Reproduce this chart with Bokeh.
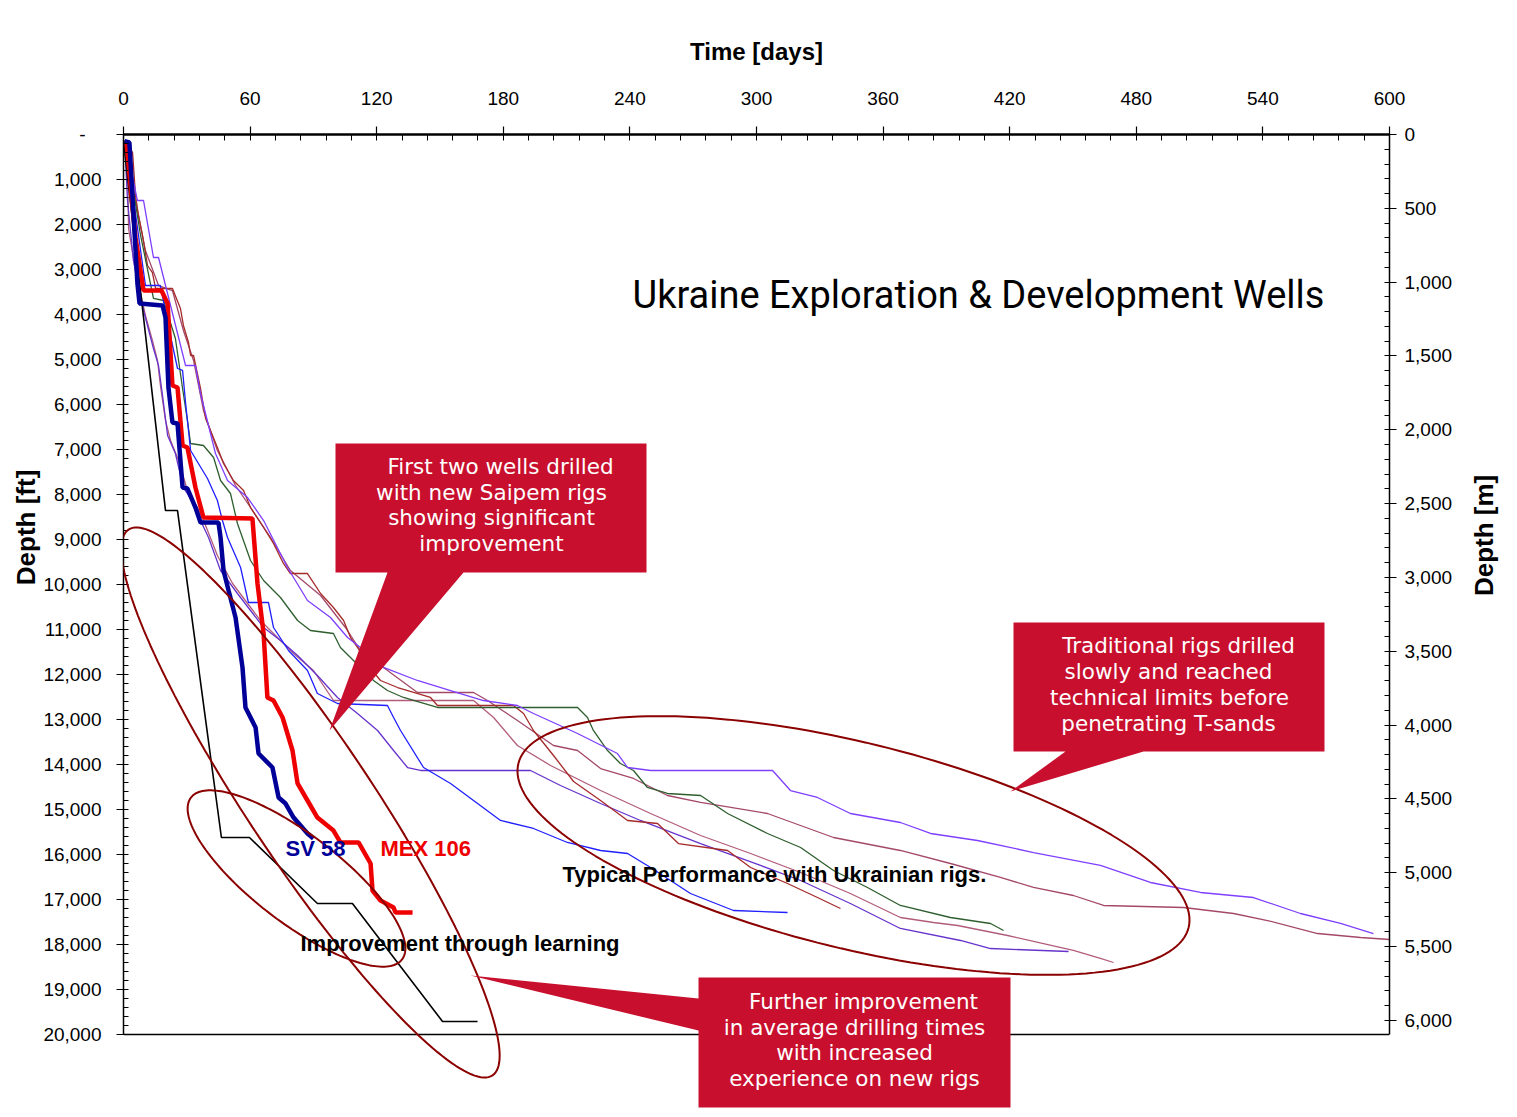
import math
from bokeh.plotting import figure
from bokeh.models import Range1d, LinearAxis, FixedTicker, Label, PolyAnnotation, Span
from bokeh.embed import file_html
from bokeh.resources import INLINE

# ---------------- data ----------------
time_ticks = list(range(0, 601, 60))
time_minor = list(range(0, 601, 12))
ft_ticks = list(range(0, 20001, 1000))
ft_minor = list(range(0, 20001, 200))
m_ticks = list(range(0, 6001, 500))
m_minor = list(range(0, 6001, 100))
ft_tick_labels = ["-\u00a0\u00a0\u00a0"] + [f"{t:,}" for t in ft_ticks[1:]]
m_tick_labels = [f"{t:,}" for t in m_ticks]
time_tick_labels = [str(t) for t in time_ticks]

sv58_days = [0.5, 2.8, 6.6, 7.6, 18.5, 19.9, 21.3, 23.2, 25.6, 28.0, 30.3, 34.1, 36.5, 45.0, 46.0,
             47.4, 49.8, 53.1, 56.4, 57.8, 62.6, 64.0, 70.6, 73.5, 76.8, 80.6, 87.2, 90.0]
sv58_ft = [150, 178, 3311, 3756, 3800, 4067, 5622, 6400, 6422, 7844, 7867, 8289, 8622, 8622, 8956,
           9689, 10133, 10733, 11844, 12733, 13178, 13756, 14067, 14733, 14867, 15178, 15533, 15644]

mex106_days = [0.5, 1.4, 5.7, 9.5, 18.0, 20.9, 23.2, 25.6, 28.0, 30.3, 34.1, 37.9, 61.1, 63.5, 66.4,
               68.2, 71.1, 75.4, 80.1, 82.5, 87.2, 91.9, 99.5, 102.8, 111.4, 117.1, 118.0, 121.8,
               128.0, 128.9, 137.0]
mex106_ft = [150, 178, 2289, 3467, 3467, 3756, 5578, 5622, 6911, 6956, 7844, 8511, 8533, 9978, 11089,
             12511, 12578, 12956, 13689, 14422, 14800, 15178, 15467, 15733, 15733, 16200, 16800, 17022,
             17178, 17289, 17289]

learning_days = [0.0, 19.9, 25.6, 46.4, 59.7, 91.9, 108.5, 151.2, 167.8]
learning_ft = [150, 8356, 8356, 15622, 15622, 17089, 17089, 19711, 19711]

ukr_blue_days = [0.9, 10.4, 17.5, 20.9, 25.6, 28.0, 29.4, 31.8, 39.8, 44.5, 46.9, 49.3, 55.5, 59.2,
                 68.7, 71.1, 78.2, 87.2, 91.9, 101.4, 125.1, 128.0, 131.3, 142.2, 155.0, 178.7, 194.3,
                 210.4, 226.1, 238.9, 249.8, 268.7, 289.1, 314.7]
ukr_blue_ft = [133, 3356, 3356, 4178, 5200, 5244, 5956, 7022, 7644, 8133, 8578, 8956, 9622, 10400,
               10400, 10956, 11467, 11911, 12422, 12644, 12689, 12956, 13244, 14067, 14422, 15244, 15422,
               15733, 15911, 15978, 16289, 16867, 17244, 17289]

ukr_green_days = [0.9, 8.1, 14.2, 19.0, 24.6, 28.0, 30.3, 31.8, 37.9, 42.7, 46.0, 50.7, 54.0, 60.2,
                  66.4, 74.4, 82.5, 88.6, 99.5, 102.8, 109.0, 118.5, 125.1, 132.7, 148.8, 215.2, 219.9,
                  222.7, 229.4, 235.5, 241.7, 248.3, 257.8, 273.5, 286.3, 305.2, 320.9, 336.5, 352.6,
                  368.2, 391.9, 410.9, 417.1]
ukr_green_ft = [133, 2244, 3644, 3689, 4533, 5644, 6356, 6867, 6911, 7178, 7689, 7978, 8644, 9467,
                9911, 10289, 10800, 11022, 11089, 11400, 11689, 12133, 12356, 12511, 12733, 12733, 12956,
                13244, 13689, 13978, 14133, 14511, 14644, 14689, 15089, 15533, 15844, 16356, 16733,
                17133, 17400, 17533, 17689]

ukr_violet_days = [1.0, 6.6, 9.5, 14.2, 16.6, 26.1, 29.4, 34.1, 36.5, 43.6, 49.3, 58.8, 66.4, 77.7,
                   87.2, 98.1, 106.2, 112.3, 123.2, 139.3, 155.0, 170.6, 186.7, 194.3, 215.2, 234.1,
                   238.9, 249.8, 307.6, 316.1, 328.9, 344.5, 368.2, 382.5, 404.7, 431.3, 463.0, 486.7,
                   510.4, 535.5, 557.8, 576.8, 592.4]
ukr_violet_ft = [178, 1467, 1467, 2733, 2733, 4511, 5133, 5133, 5756, 7089, 7689, 8067, 8578, 9622,
                 10356, 10733, 11178, 11400, 11844, 12133, 12356, 12578, 12689, 12867, 13311, 13756,
                 14067, 14133, 14133, 14578, 14733, 15089, 15289, 15533, 15689, 15956, 16244, 16622,
                 16844, 16956, 17311, 17533, 17756]

ukr_darkred_days = [0.9, 4.3, 5.7, 7.1, 9.0, 11.4, 13.7, 15.2, 23.2, 27.0, 28.4, 30.8, 31.8, 33.2,
                    36.5, 38.9, 44.5, 47.4, 52.1, 56.9, 60.2, 66.4, 71.1, 75.8, 79.1, 87.2, 93.4, 99.5,
                    104.3, 107.6, 110.9, 117.1, 121.8, 129.9, 145.5, 148.8, 184.8, 189.6, 194.3, 203.8,
                    213.3, 226.1, 238.9, 253.1, 263.0, 286.3, 297.2, 314.7, 328.9, 339.8]
ukr_darkred_ft = [133, 400, 1356, 1800, 2244, 2911, 3067, 3422, 3422, 3867, 4244, 4622, 4911, 4911,
                  5644, 6311, 6956, 7311, 7689, 7911, 8289, 8733, 9089, 9533, 9756, 9756, 10200, 10511,
                  10800, 11178, 11400, 11867, 12133, 12289, 12511, 12689, 12689, 12867, 13244, 13800,
                  14378, 14800, 15244, 15311, 15756, 15911, 16289, 16644, 16956, 17200]

ukr_purple_days = [0.5, 1.9, 4.7, 9.5, 14.2, 16.6, 18.5, 20.9, 24.6, 28.4, 33.2, 36.5, 40.3, 46.0,
                   54.0, 60.2, 66.4, 74.4, 82.5, 91.9, 101.4, 110.9, 120.4, 128.0, 134.6, 140.8, 192.9,
                   207.1, 226.1, 245.0, 273.5, 301.9, 320.9, 344.5, 368.2, 396.7, 410.9, 447.9]
ukr_purple_ft = [133, 1467, 2800, 3911, 4756, 5133, 5800, 6689, 7089, 7844, 8200, 8578, 8956, 9689,
                 10200, 10578, 10956, 11244, 11578, 12022, 12511, 12867, 13244, 13689, 14067, 14133,
                 14133, 14467, 14867, 15244, 15756, 16244, 16578, 17089, 17644, 17911, 18089, 18156]

ukr_mauve_days = [0.9, 1.9, 2.4, 5.7, 10.4, 13.7, 16.1, 17.5, 19.9, 22.3, 26.1, 30.3, 35.1, 38.9,
                  44.5, 51.7, 58.8, 64.9, 73.0, 80.6, 90.0, 99.5, 165.9, 175.4, 186.7, 202.4, 226.1,
                  249.8, 273.5, 297.2, 320.9, 344.5, 368.2, 383.9, 395.3, 419.0, 436.0, 450.2, 463.0,
                  469.2]
ukr_mauve_ft = [133, 689, 2089, 3022, 4022, 4578, 5022, 5578, 6356, 6800, 7244, 7911, 8289, 8689,
                9356, 9978, 10422, 10800, 11178, 11533, 11911, 12578, 12578, 12956, 13578, 14022, 14578,
                15089, 15578, 15978, 16400, 16867, 17400, 17511, 17578, 17800, 17978, 18133, 18311,
                18400]

ukr_rose_days = [0.9, 5.7, 10.4, 16.6, 23.2, 28.4, 33.2, 37.9, 44.5, 53.1, 60.2, 69.7, 79.1, 93.4,
                 105.2, 112.3, 123.2, 139.3, 165.9, 172.5, 186.7, 203.8, 215.2, 226.1, 241.7, 257.8,
                 273.5, 305.2, 336.5, 368.2, 391.9, 415.6, 431.3, 450.2, 464.5, 502.4, 526.1, 542.2,
                 565.9, 586.3, 600.0]
ukr_rose_ft = [133, 1467, 2578, 3356, 3467, 4356, 5022, 6133, 7022, 7800, 8289, 8956, 9689, 10244,
               10956, 11467, 11844, 12400, 12400, 12578, 13022, 13578, 13689, 14089, 14311, 14689,
               14844, 15089, 15622, 15911, 16200, 16511, 16733, 16911, 17133, 17178, 17311, 17467,
               17756, 17844, 17889]

# ---------------- figure ----------------
X_MAX, Y_MAX = 600, 20000
Y_VIEW = 21800            # frame continues below the 20,000 ft line (room for callout)
FR_L, FR_T, FR_W = 123, 134, 1266
FIG_W = 1516
PX_PER_FT = 900 / Y_MAX
frame_h = int(round(Y_VIEW * PX_PER_FT))

p = figure(width=FIG_W, height=FR_T + frame_h + 1,
           x_range=Range1d(0, X_MAX), y_range=Range1d(Y_VIEW, 0),
           x_axis_location="above", y_axis_location="left",
           output_backend="svg", toolbar_location=None,
           min_border_left=FR_L, min_border_right=FIG_W - FR_L - FR_W,
           min_border_top=FR_T, min_border_bottom=1)
p.grid.visible = False
p.background_fill_color = "white"
p.border_fill_color = "white"
p.outline_line_color = None

p.extra_y_ranges = {"m": Range1d(start=Y_VIEW * 0.3048, end=0)}
raxis = LinearAxis(y_range_name="m")
p.add_layout(raxis, "right")

xa = p.xaxis[0]
ya = p.yaxis[0]
xa.ticker = FixedTicker(ticks=time_ticks, minor_ticks=time_minor)
xa.major_label_overrides = dict(zip(time_ticks, time_tick_labels))
ya.ticker = FixedTicker(ticks=ft_ticks, minor_ticks=ft_minor)
ya.major_label_overrides = dict(zip(ft_ticks, ft_tick_labels))
ya.bounds = (0, Y_MAX)
raxis.ticker = FixedTicker(ticks=m_ticks, minor_ticks=m_minor)
raxis.major_label_overrides = dict(zip(m_ticks, m_tick_labels))
raxis.bounds = (0, Y_MAX * 0.3048)

for ax in (xa, ya, raxis):
    ax.axis_line_color = "black"
    ax.axis_line_width = 1.5
    ax.major_tick_line_color = "black"
    ax.minor_tick_line_color = "black"
    ax.major_tick_line_width = 1.2
    ax.minor_tick_line_width = 1
    ax.major_label_text_font = "Liberation Sans"
    ax.major_label_text_font_size = "19px"
    ax.major_label_text_color = "black"
    ax.major_tick_out = 7
    ax.major_tick_in = 4
    ax.minor_tick_out = 0
    ax.minor_tick_in = 5
    ax.major_label_standoff = 8

ya.major_label_standoff = 15
xa.axis_line_width = 2.5
xa.major_tick_out = 8
xa.major_tick_in = 0
xa.minor_tick_in = 6
xa.major_label_standoff = 22
xa.axis_label = "Time [days]"
xa.axis_label_text_font = "Liberation Sans"
xa.axis_label_text_font_style = "bold"
xa.axis_label_text_font_size = "24px"
xa.axis_label_text_color = "black"
xa.axis_label_standoff = 24

# bottom edge of the chart area
p.add_layout(Span(location=Y_MAX, dimension="width", line_color="black", line_width=1.5))

# axis titles sit above the middle of the frame, as in the original: lead with no-break spaces


def label_axis(text, side, range_name, standoff, orientation):
    ax = LinearAxis(y_range_name=range_name, ticker=FixedTicker(ticks=[]),
                    axis_line_color=None, major_tick_line_color=None, minor_tick_line_color=None,
                    major_label_text_font_size="0px", major_tick_out=0, major_tick_in=0,
                    minor_tick_out=0, minor_tick_in=0, major_label_standoff=0,
                    axis_label=text, axis_label_text_font="Liberation Sans",
                    axis_label_text_font_style="bold", axis_label_text_font_size="26px",
                    axis_label_text_color="black", axis_label_standoff=standoff,
                    axis_label_orientation=orientation)
    p.add_layout(ax, side)


label_axis("\u00a0" * 27 + "Depth [ft]", "left", "default", 0, "parallel")
label_axis("\u00a0" * 4 + "Depth [m]", "right", "m", 28, math.pi / 2)

# ---------------- wells ----------------
thin = [
    (ukr_rose_days, ukr_rose_ft, "#A4486A"),
    (ukr_mauve_days, ukr_mauve_ft, "#B25C7C"),
    (ukr_purple_days, ukr_purple_ft, "#6633CC"),
    (ukr_darkred_days, ukr_darkred_ft, "#A52A2A"),
    (ukr_green_days, ukr_green_ft, "#2E5E2E"),
    (ukr_blue_days, ukr_blue_ft, "#1F1FFF"),
    (ukr_violet_days, ukr_violet_ft, "#7F3FFF"),
]
for d, f, c in thin:
    p.line(d, f, line_color=c, line_width=1.3)

p.line(learning_days, learning_ft, line_color="black", line_width=1.6)
p.line(mex106_days, mex106_ft, line_color="#EE0000", line_width=4.5)
p.line(sv58_days, sv58_ft, line_color="#000099", line_width=4.5)

# ---------------- annotations (page-pixel layout) ----------------


def to_data(px, py):
    return (px - FR_L) / FR_W * X_MAX, (py - FR_T) / PX_PER_FT


def ellipse(cx, cy, a, b, ang_deg, n=180):
    th = math.radians(ang_deg)
    xs, ys = [], []
    for i in range(n):
        t = 2 * math.pi * i / n
        px = cx + a * math.cos(t) * math.cos(th) - b * math.sin(t) * math.sin(th)
        py = cy + a * math.cos(t) * math.sin(th) + b * math.sin(t) * math.cos(th)
        dx, dy = to_data(px, py)
        xs.append(dx)
        ys.append(dy)
    return xs, ys


ELL_COLOR = "#8B0000"
for (cx, cy, a, b, ang) in [(310, 802, 328, 62, 56.3), (296, 878, 133, 44, 37.5),
                            (853, 845, 345, 103, 13.75)]:
    xs, ys = ellipse(cx, cy, a, b, ang)
    p.add_layout(PolyAnnotation(xs=xs, ys=ys, fill_color=None, line_color=ELL_COLOR,
                                line_alpha=1.0, line_width=2))

CALLOUT = "#C8102E"
callouts = [
    [(335, 443), (646, 443), (646, 572), (463, 572), (329, 730), (387, 572), (335, 572)],
    [(1013, 622), (1324, 622), (1324, 751), (1143, 751), (1010, 791), (1065, 751), (1013, 751)],
    [(698, 977), (1010, 977), (1010, 1107), (698, 1107), (698, 1030), (470, 975), (698, 998)],
]
for poly in callouts:
    pts = [to_data(x, y) for x, y in poly]
    p.add_layout(PolyAnnotation(xs=[q[0] for q in pts], ys=[q[1] for q in pts],
                                fill_color=CALLOUT, fill_alpha=1, line_color=None))


def add_text(px, py, text, size, color="black", font="Liberation Sans", style="normal",
             align="left", angle=0.0):
    x, y = to_data(px, py)
    p.add_layout(Label(x=x, y=y, text=text, text_font=font, text_font_size=size,
                       text_font_style=style, text_color=color, text_align=align,
                       text_baseline="middle", angle=angle))


callout_texts = [
    [(500, 466, "First two wells drilled"), (491, 492, "with new Saipem rigs"),
     (491, 517, "showing significant"), (491, 543, "improvement")],
    [(1178, 645, "Traditional rigs drilled"), (1168, 671, "slowly and reached"),
     (1169, 697, "technical limits before"), (1168, 723, "penetrating T-sands")],
    [(863, 1001, "Further improvement"), (854, 1027, "in average drilling times"),
     (854, 1052, "with increased"), (854, 1078, "experience on new rigs")],
]
for block in callout_texts:
    for (px, py, t) in block:
        add_text(px, py, t, "21.5px", color="white", font="DejaVu Sans", align="center")

add_text(632, 294, "Ukraine Exploration & Development Wells", "38px", font="Roboto")
add_text(285, 848, "SV 58", "22px", color="#000099", style="bold")
add_text(380, 848, "MEX 106", "22px", color="#EE0000", style="bold")
add_text(300, 943, "Improvement through learning", "22px", style="bold")
add_text(562, 874, "Typical Performance with Ukrainian rigs.", "22px", style="bold")

open("out.html", "w").write(file_html(p, INLINE))
